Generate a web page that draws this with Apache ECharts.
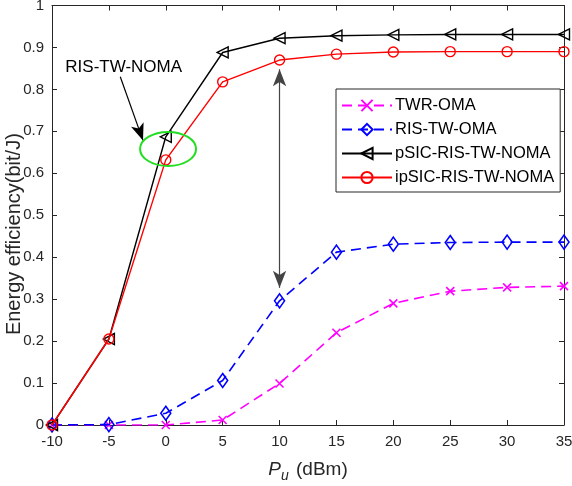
<!DOCTYPE html>
<html>
<head>
<meta charset="utf-8">
<script src="https://cdn.jsdelivr.net/npm/echarts@6/dist/echarts.min.js"></script>
<style>html,body{margin:0;padding:0;background:#fff;}#c{width:572px;height:486px;}</style>
</head>
<body>
<div id="c"></div>
<script>
const xValues = [-10, -5, 0, 5, 10, 15, 20, 25, 30, 35];
const twrOma = [0, 0, 0, 0.012, 0.099, 0.220, 0.290, 0.319, 0.328, 0.331];
const risTwOma = [0, 0.001, 0.028, 0.106, 0.296, 0.412, 0.431, 0.435, 0.436, 0.436];
const psicNoma = [0, 0.205, 0.687, 0.888, 0.922, 0.928, 0.930, 0.931, 0.931, 0.931];
const ipsicNoma = [0, 0.205, 0.632, 0.818, 0.870, 0.884, 0.889, 0.890, 0.890, 0.890];
const seriesNames = ['TWR-OMA', 'RIS-TW-OMA', 'pSIC-RIS-TW-NOMA', 'ipSIC-RIS-TW-NOMA'];
const annotText = 'RIS-TW-NOMA';
const yTitle = 'Energy efficiency(bit/J)';

const FONT = '"Liberation Sans", Arial, Helvetica, sans-serif';
const AX = '#262626';
const pair = (ys) => xValues.map((x, i) => [x, ys[i]]);

const chart = echarts.init(document.getElementById('c'));

const baseX = {
  type: 'value', min: -10, max: 35, interval: 5,
  axisLine: { show: true, onZero: false, lineStyle: { color: AX, width: 1 } },
  axisTick: { show: true, inside: true, length: 5, lineStyle: { color: AX } },
  splitLine: { show: false }
};
const baseY = {
  type: 'value', min: 0, max: 1, interval: 0.1,
  axisLine: { show: true, onZero: false, lineStyle: { color: AX, width: 1 } },
  axisTick: { show: true, inside: true, length: 5, lineStyle: { color: AX } },
  splitLine: { show: false }
};

const option = {
  animation: false,
  backgroundColor: '#fff',
  textStyle: { fontFamily: FONT },
  grid: { left: 52, right: 8, top: 5.5, bottom: 61, containLabel: false, outerBoundsMode: 'none' },
  xAxis: [
    Object.assign({}, baseX, {
      position: 'bottom',
      axisLabel: { show: true, color: AX, fontSize: 15, fontFamily: FONT, margin: 9 },
      name: '{i|P}{s|u} (dBm)',
      nameLocation: 'middle', nameGap: 32, nameMoveOverlap: false,
      nameTextStyle: {
        color: AX, fontSize: 19, fontFamily: FONT,
        rich: {
          i: { fontStyle: 'italic', fontSize: 19, color: AX, fontFamily: FONT },
          s: { fontStyle: 'italic', fontSize: 14, color: AX, fontFamily: FONT, verticalAlign: 'bottom', padding: [12, 2, 0, 0] }
        }
      }
    }),
    Object.assign({}, baseX, { position: 'top', axisLabel: { show: false } })
  ],
  yAxis: [
    Object.assign({}, baseY, {
      position: 'left',
      axisLabel: { show: true, color: AX, fontSize: 15, fontFamily: FONT, margin: 8 }
    }),
    Object.assign({}, baseY, { position: 'right', axisLabel: { show: false } })
  ],
  legend: {
    orient: 'vertical', left: 336, top: 89,
    backgroundColor: '#fff', borderColor: AX, borderWidth: 1,
    padding: [8, 6, 6, 5], itemGap: 7, itemWidth: 50, itemHeight: 14,
    textStyle: { fontSize: 16.5, color: '#000', fontFamily: FONT, padding: [0, 0, 0, -2] },
    data: seriesNames
  },
  series: [
    {
      name: seriesNames[0], type: 'line', data: pair(twrOma),
      symbol: 'path://M0,0L10,10M10,0L0,10', symbolSize: 8,
      itemStyle: { color: '#ff00ff', borderColor: '#ff00ff', borderWidth: 1.6 },
      lineStyle: { color: '#ff00ff', width: 1.6, type: [10, 6] }, z: 2
    },
    {
      name: seriesNames[1], type: 'line', data: pair(risTwOma),
      symbol: 'diamond', symbolSize: [10, 14],
      itemStyle: { color: 'none', borderColor: '#0000ff', borderWidth: 1.6 },
      lineStyle: { color: '#0000ff', width: 1.6, type: [10, 6] }, z: 3
    },
    {
      name: seriesNames[2], type: 'line', data: pair(psicNoma),
      symbol: 'path://M0,5L10,0L10,10Z', symbolSize: 11,
      itemStyle: { color: 'none', borderColor: '#000', borderWidth: 1.4 },
      lineStyle: { color: '#000', width: 1.4 }, z: 4,
      markLine: {
        silent: true, animation: false,
        symbol: ['arrow', 'arrow'], symbolSize: [10, 17],
        label: { show: false },
        lineStyle: { color: '#444', width: 1.2, type: 'solid' },
        itemStyle: { color: '#000' },
        data: [
          [{ coord: [10, 0.848], symbol: 'arrow', itemStyle: { color: '#000' } }, { coord: [10, 0.327], symbol: 'arrow', itemStyle: { color: '#000' } }],
          [{ coord: [-4.0, 0.830], symbol: 'none' }, { coord: [-2.0, 0.678], symbol: 'arrow', itemStyle: { color: '#000' }, lineStyle: { color: '#000' } }]
        ]
      }
    },
    {
      name: seriesNames[3], type: 'line', data: pair(ipsicNoma),
      symbol: 'circle', symbolSize: 10,
      itemStyle: { color: 'none', borderColor: '#ff0000', borderWidth: 1.4 },
      lineStyle: { color: '#ff0000', width: 1.4 }, z: 5
    }
  ]
};
chart.setOption(option);

const txtPos = chart.convertToPixel({ xAxisIndex: 0, yAxisIndex: 0 }, [-3.7, 0.853]);
const ellPos = chart.convertToPixel({ xAxisIndex: 0, yAxisIndex: 0 }, [0.2, 0.658]);
const yNamePos = chart.convertToPixel({ xAxisIndex: 0, yAxisIndex: 0 }, [-10, 0.455]);
chart.setOption({
  graphic: [
    {
      type: 'text', x: yNamePos[0] - 38, y: yNamePos[1], rotation: Math.PI / 2, z: 10,
      style: { text: yTitle, fill: AX, font: '20px ' + FONT, align: 'center', verticalAlign: 'middle' }
    },
    {
      type: 'text', x: txtPos[0], y: txtPos[1], z: 10,
      style: { text: annotText, fill: '#000', font: '17px ' + FONT, align: 'center', verticalAlign: 'middle' }
    },
    {
      type: 'ellipse', z: 10,
      shape: { cx: ellPos[0], cy: ellPos[1], rx: 28, ry: 17 },
      style: { fill: 'none', stroke: '#22dd22', lineWidth: 2 }
    }
  ]
});
</script>
</body>
</html>
